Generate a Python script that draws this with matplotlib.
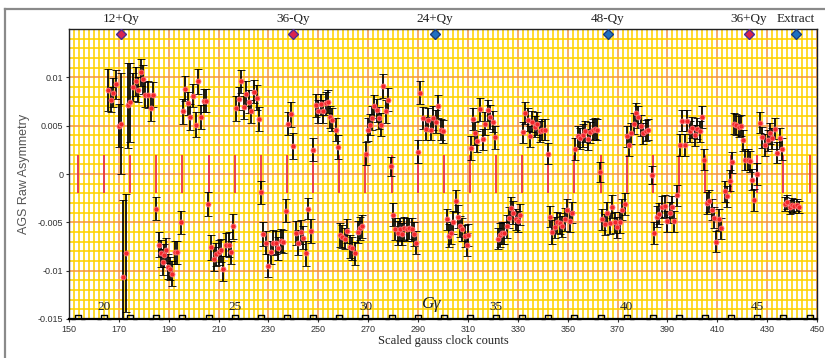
import matplotlib
matplotlib.use("Agg")
import matplotlib.pyplot as plt
from matplotlib.ticker import MultipleLocator
from matplotlib.path import Path
from matplotlib.lines import Line2D

# polarimeter measurements: scaled gauss clock, raw asymmetry, error
gauss = [
    165.8, 166.9, 167.8, 168.9, 170.1, 171.0, 173.8, 174.6,
    171.8, 172.7,
    175.8, 176.7, 177.8, 178.7, 179.7, 180.6, 181.5, 182.8, 183.5,
    185.0, 185.9, 186.8, 187.6, 188.3, 189.0, 189.8, 190.6, 191.5, 192.5, 193.5, 194.9,
    195.8, 196.7, 197.7, 198.7, 199.7, 200.9, 201.8, 202.9, 204.0, 205.0,
    205.9, 207.0, 208.0, 209.0, 210.0, 210.9, 211.9, 212.9, 214.0, 215.0, 215.9,
    217.0, 218.0, 218.9, 220.0, 221.0, 222.0, 222.9, 224.0, 225.3, 226.2,
    227.0, 227.9, 228.9, 229.9, 230.9, 231.9, 232.9, 233.9, 234.9, 235.8, 236.9,
    237.9, 238.9, 239.8,
    240.9, 241.9, 242.9, 243.9, 244.9, 246.0, 246.9,
    248.0, 249.1, 250.0, 251.0, 252.0, 253.0, 253.8, 254.7, 255.6, 257.0, 258.0,
    258.7, 259.6, 260.7, 261.6, 262.7, 263.6, 264.7, 265.8, 266.7, 267.6,
    269.0, 269.8, 270.7, 271.7, 272.5, 273.4, 274.3, 275.1, 276.1, 277.0, 278.1,
    279.0,
    279.8, 280.8, 281.8, 282.8, 283.6, 284.4, 285.4, 286.4, 287.4, 288.2, 289.0,
    289.8, 290.8, 292.1, 293.0, 294.1, 295.0, 296.1, 297.0, 298.0, 299.1, 300.1,
    301.5, 302.4, 303.2, 304.1, 305.1, 305.9, 306.8, 307.8, 308.8, 309.5, 310.2,
    311.1, 311.9, 312.8, 313.8, 314.8, 315.9, 316.8, 317.9, 318.8, 319.9, 320.9,
    321.9, 322.9, 323.8, 324.6, 325.5, 326.5, 327.3, 328.2, 329.1, 330.0, 330.9,
    332.0, 332.9, 334.0, 334.9, 335.8, 336.9, 337.8, 338.9, 339.8, 340.9, 342.0,
    342.9, 343.8, 344.9, 345.9, 346.9, 347.9, 348.9, 349.9, 350.9, 351.9,
    353.0, 354.0, 355.0, 356.0, 357.0, 358.0, 359.0, 360.0, 361.0, 361.9,
    363.0,
    363.9, 365.0, 365.9, 367.0, 367.9, 369.0, 369.9, 371.0, 371.9, 372.8,
    373.7, 374.6, 375.6, 376.6, 377.5, 378.4, 379.3, 380.4, 381.4, 382.4,
    384.0,
    384.8, 385.8, 386.8, 387.9, 388.9, 389.9, 390.9, 391.9, 392.8, 393.8,
    395.0, 396.0, 397.0, 398.0, 399.0, 400.0, 401.0, 402.0, 403.0, 404.0, 404.8,
    406.0, 406.8, 407.7, 408.6, 409.6, 410.6, 411.6, 413.0, 414.0, 415.0, 416.0,
    416.8, 417.6, 418.6, 419.5, 420.2, 421.2, 422.2, 423.1, 424.0, 424.9, 425.8,
    427.1, 428.1, 429.1, 430.2, 431.1, 432.1, 433.1, 434.1, 435.2, 436.1,
    437.2, 438.1, 439.0, 439.9, 440.9, 441.8, 442.7,
]
asym = [
    0.0087, 0.0077, 0.0084, 0.0093, 0.0050, 0.0052, 0.0071, 0.0074,
    -0.0107, -0.0082,
    0.0090, 0.0096, 0.0087, 0.0105, 0.0098, 0.0082, 0.0082, 0.0068, 0.0082,
    -0.0036, -0.0073, -0.0082, -0.0091, -0.0084, -0.0079, -0.0096, -0.0098, -0.0103, -0.0081, -0.0081, -0.0050,
    0.0065, 0.0088, 0.0073, 0.0059, 0.0081, 0.0051, 0.0096, 0.0059, 0.0076, 0.0076,
    -0.0031, -0.0076, -0.0088, -0.0083, -0.0081, -0.0079, -0.0098, -0.0073, -0.0073, -0.0081, -0.0054,
    0.0068, 0.0078, 0.0096, 0.0069, 0.0083, 0.0075, 0.0065, 0.0085, 0.0079, 0.0057,
    -0.0019, -0.0062, -0.0071, -0.0095, -0.0081, -0.0071, -0.0071, -0.0077, -0.0069, -0.0070, -0.0038,
    0.0052, 0.0062, 0.0029,
    -0.0061, -0.0071, -0.0060, -0.0066, -0.0082, -0.0036, -0.0059,
    0.0025, 0.0071, 0.0065, 0.0072, 0.0065, 0.0073, 0.0075, 0.0059, 0.0056, 0.0046, 0.0028,
    -0.0063, -0.0065, -0.0067, -0.0059, -0.0075, -0.0077, -0.0082, -0.0060, -0.0056, -0.0054,
    0.0021, 0.0046, 0.0051, 0.0058, 0.0070, 0.0066, 0.0058, 0.0051, 0.0091, 0.0065, 0.0077,
    0.0008,
    -0.0042, -0.0057, -0.0061, -0.0057, -0.0062, -0.0056, -0.0057, -0.0056, -0.0057, -0.0062, -0.0071,
    0.0023, 0.0084, 0.0058, 0.0047, 0.0056, 0.0046, 0.0058, 0.0054, 0.0070, 0.0046, 0.0044,
    -0.0047, -0.0064, -0.0061, -0.0050, -0.0028, -0.0044, -0.0054, -0.0057, -0.0064, -0.0073, -0.0063,
    0.0027, 0.0057, 0.0042, 0.0034, 0.0067, 0.0036, 0.0052, 0.0066, 0.0059, 0.0054, 0.0038,
    -0.0067, -0.0063, -0.0061, -0.0061, -0.0054, -0.0045, -0.0035, -0.0040, -0.0047, -0.0049, -0.0042,
    0.0043, 0.0063, 0.0056, 0.0039, 0.0054, 0.0049, 0.0052, 0.0044, 0.0046, 0.0046, 0.0021,
    -0.0044, -0.0060, -0.0055, -0.0050, -0.0051, -0.0054, -0.0047, -0.0037, -0.0049, -0.0040,
    0.0026, 0.0039, 0.0037, 0.0040, 0.0044, 0.0036, 0.0043, 0.0046, 0.0047, 0.0046,
    0.0002,
    -0.0047, -0.0052, -0.0040, -0.0051, -0.0034, -0.0050, -0.0055, -0.0050, -0.0037, -0.0031,
    0.0039, 0.0030, 0.0042, 0.0052, 0.0063, 0.0059, 0.0050, 0.0042, 0.0045, 0.0046,
    -0.0001,
    -0.0061, -0.0044, -0.0041, -0.0034, -0.0033, -0.0049, -0.0040, -0.0034, -0.0049, -0.0022,
    0.0030, 0.0055, 0.0030, 0.0055, 0.0044, 0.0048, 0.0040, 0.0047, 0.0044, 0.0059, 0.0015,
    -0.0030, -0.0028, -0.0037, -0.0045, -0.0070, -0.0047, -0.0056, -0.0018, -0.0023, -0.0007, 0.0012,
    0.0052, 0.0051, 0.0049, 0.0050, 0.0035, 0.0015, 0.0015, 0.0013, -0.0006, -0.0027, 0.0000,
    0.0053, 0.0038, 0.0030, 0.0035, 0.0042, 0.0037, 0.0047, 0.0022, 0.0037, 0.0026,
    -0.0031, -0.0029, -0.0034, -0.0032, -0.0033, -0.0032, -0.0034,
]
asym_err = [
    0.0022, 0.0013, 0.0015, 0.0015, 0.0022, 0.0052, 0.0044, 0.0041,
    0.0080, 0.0061,
    0.0014, 0.0015, 0.0013, 0.0014, 0.0015, 0.0013, 0.0014, 0.0013, 0.0013,
    0.0012, 0.0013, 0.0014, 0.0013, 0.0012, 0.0013, 0.0013, 0.0012, 0.0013, 0.0012, 0.0012, 0.0012,
    0.0013, 0.0013, 0.0012, 0.0013, 0.0012, 0.0013, 0.0013, 0.0012, 0.0012, 0.0012,
    0.0012, 0.0013, 0.0012, 0.0012, 0.0013, 0.0012, 0.0013, 0.0012, 0.0013, 0.0012, 0.0013,
    0.0013, 0.0012, 0.0012, 0.0012, 0.0013, 0.0012, 0.0012, 0.0012, 0.0013, 0.0012,
    0.0012, 0.0012, 0.0012, 0.0012, 0.0012, 0.0013, 0.0012, 0.0012, 0.0012, 0.0012, 0.0012,
    0.0012, 0.0013, 0.0013,
    0.0012, 0.0013, 0.0012, 0.0012, 0.0013, 0.0011, 0.0012,
    0.0012, 0.0012, 0.0012, 0.0011, 0.0012, 0.0012, 0.0012, 0.0011, 0.0012, 0.0012, 0.0012,
    0.0012, 0.0012, 0.0011, 0.0012, 0.0012, 0.0012, 0.0012, 0.0011, 0.0012, 0.0012,
    0.0012, 0.0012, 0.0011, 0.0012, 0.0012, 0.0012, 0.0011, 0.0012, 0.0012, 0.0012, 0.0012,
    0.0010,
    0.0012, 0.0011, 0.0012, 0.0012, 0.0011, 0.0012, 0.0012, 0.0011, 0.0012, 0.0012, 0.0012,
    0.0012, 0.0012, 0.0011, 0.0012, 0.0012, 0.0011, 0.0012, 0.0012, 0.0012, 0.0011, 0.0012,
    0.0011, 0.0012, 0.0011, 0.0012, 0.0011, 0.0012, 0.0011, 0.0012, 0.0011, 0.0012, 0.0011,
    0.0012, 0.0011, 0.0012, 0.0011, 0.0012, 0.0011, 0.0012, 0.0011, 0.0012, 0.0011, 0.0012,
    0.0011, 0.0012, 0.0011, 0.0011, 0.0012, 0.0011, 0.0011, 0.0012, 0.0011, 0.0011, 0.0011,
    0.0011, 0.0011, 0.0012, 0.0011, 0.0011, 0.0011, 0.0012, 0.0011, 0.0011, 0.0011, 0.0011,
    0.0011, 0.0012, 0.0011, 0.0011, 0.0011, 0.0011, 0.0012, 0.0011, 0.0011, 0.0011,
    0.0011, 0.0011, 0.0011, 0.0012, 0.0011, 0.0011, 0.0011, 0.0011, 0.0011, 0.0011,
    0.0010,
    0.0011, 0.0011, 0.0011, 0.0011, 0.0012, 0.0011, 0.0011, 0.0011, 0.0011, 0.0011,
    0.0011, 0.0011, 0.0011, 0.0011, 0.0010, 0.0011, 0.0011, 0.0011, 0.0011, 0.0011,
    0.0009,
    0.0011, 0.0011, 0.0011, 0.0011, 0.0011, 0.0011, 0.0011, 0.0011, 0.0011, 0.0011,
    0.0011, 0.0011, 0.0011, 0.0011, 0.0011, 0.0011, 0.0011, 0.0011, 0.0011, 0.0011, 0.0011,
    0.0011, 0.0011, 0.0011, 0.0011, 0.0011, 0.0011, 0.0011, 0.0011, 0.0011, 0.0011, 0.0011,
    0.0011, 0.0011, 0.0011, 0.0011, 0.0011, 0.0011, 0.0011, 0.0011, 0.0011, 0.0011, 0.0011,
    0.0011, 0.0011, 0.0011, 0.0011, 0.0011, 0.0011, 0.0011, 0.0011, 0.0011, 0.0011,
    0.0007, 0.0007, 0.0007, 0.0007, 0.0007, 0.0006, 0.0006,
]
assert len(gauss) == len(asym) == len(asym_err)

# integer G-gamma crossings (gauss clock position)
ggamma = list(range(19, 48))
ggamma_x = [153.6, 164.1, 174.6, 185.0, 195.5, 206.0, 216.5, 227.0, 237.5, 248.0,
            258.4, 268.9, 279.4, 289.9, 300.3, 310.8, 321.3, 331.8, 342.2, 352.7,
            363.2, 373.6, 384.1, 394.6, 405.0, 415.5, 426.0, 436.5, 447.0]
ggamma_labels = [20, 25, 30, 35, 40, 45]

# resonances marked along the top
res_names = ["12+Qy", "36-Qy", "24+Qy", "48-Qy", "36+Qy", "Extract"]
res_x = [171.0, 240.0, 296.8, 366.0, 422.7, 441.5]
res_kind = ["imp", "imp", "int", "int", "imp", "int"]

serif = "Liberation Serif"
sans = "Liberation Sans"

fig = plt.figure(figsize=(8.25, 3.58), dpi=100)
ax = fig.add_axes([69 / 825, 1 - 319 / 358, 748 / 825, 290 / 358])

ax.set_xlim(150, 450)
ax.set_ylim(-0.015, 0.015)
ax.set_xticks(range(150, 451, 20))
ax.set_yticks([-0.015, -0.01, -0.005, 0, 0.005, 0.01])
ax.set_yticklabels(["-0.015", "-0.01", "-0.005", "0", "0.005", "0.01"])
ax.xaxis.set_minor_locator(MultipleLocator(2))
ax.yaxis.set_minor_locator(MultipleLocator(0.001))
ax.set_axisbelow(True)
ax.grid(which="minor", color="#FFD200", lw=1.15)
ax.grid(which="major", color="#F5963C", lw=1.1)
ax.tick_params(which="minor", length=0)
ax.tick_params(which="major", length=2, width=0.8, labelsize=6.5, colors="#333333", pad=2)
for lab in ax.get_xticklabels() + ax.get_yticklabels():
    lab.set_fontfamily(sans)
for side, sp in ax.spines.items():
    sp.set_color("#222222")
    sp.set_linewidth(1.0)
ax.spines["bottom"].set_linewidth(1.6)
ax.spines["bottom"].set_color("black")

# red markers at each integer G-gamma
ax.vlines(ggamma_x, -0.002, 0.002, color="#E8344A", lw=1.3, zorder=2)

# bumps along the bottom at each integer G-gamma
bump = Path([(-1.0, 0.0), (-0.4, 0.0), (-0.4, 0.55), (0.4, 0.55), (0.4, 0.0), (1.0, 0.0)])
ax.plot(ggamma_x, [-0.015] * len(ggamma_x), ls="none", marker=bump, ms=10,
        mfc="none", mec="black", mew=1.0, clip_on=False, zorder=5)
for g, gx in zip(ggamma, ggamma_x):
    if g in ggamma_labels:
        ax.text(gx, -0.0138, str(g), ha="center", va="center", fontsize=9.5,
                family=serif, color="#222222", zorder=6)
ax.text(295, -0.0134, "Gγ", ha="center", va="center", fontsize=12.5,
        family=serif, style="italic", color="#222222", zorder=6)

# data
ax.errorbar(gauss, asym, yerr=asym_err, fmt="o", color="black", ecolor="black",
            elinewidth=1.25, capsize=3, capthick=1.2, ms=3.6, mfc="#F2262B",
            mec="#FF7A7A", mew=0.6, zorder=4)

# resonance markers
for name, rx, kind in zip(res_names, res_x, res_kind):
    if kind == "imp":
        fc, ec = "#D9234F", "#4B2C8F"
    else:
        fc, ec = "#1F6FC0", "#1D3C7A"
    ax.plot([rx], [0.01447], marker="D", ms=5.5, mfc=fc, mec=ec, mew=1.0,
            clip_on=False, zorder=6)
    ax.text(rx, 0.0160, name, ha="center", va="center", fontsize=9.5,
            family=serif, color="#222222", clip_on=False)

ax.set_xlabel("Scaled gauss clock counts", family=serif, fontsize=9, color="#222222",
              labelpad=1)
ax.set_ylabel("AGS Raw Asymmetry", family=sans, fontsize=9, color="#555555")
ax.yaxis.set_label_coords(-0.052, 0.5)

# outer frame
fig.add_artist(Line2D([5 / 825, 1.0], [1 - 9 / 358] * 2, transform=fig.transFigure,
                      color="#8A8A8A", lw=1.6))
fig.add_artist(Line2D([5 / 825] * 2, [0.0, 1 - 9 / 358], transform=fig.transFigure,
                      color="#8A8A8A", lw=1.6))

fig.savefig("out.png", dpi=100)
